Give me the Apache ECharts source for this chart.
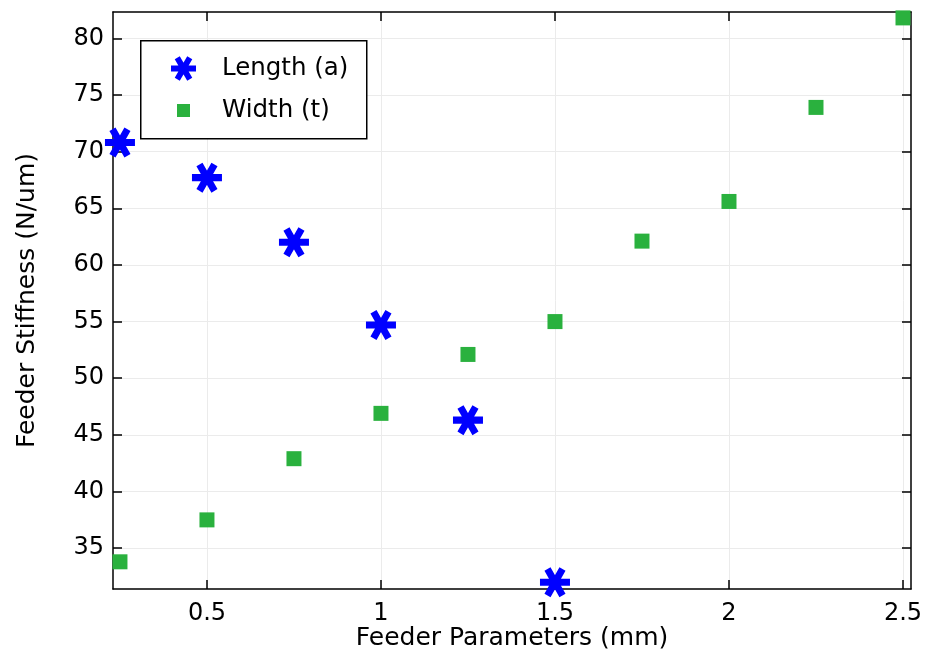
<!DOCTYPE html>
<html>
<head>
<meta charset="utf-8">
<script src="https://cdn.jsdelivr.net/npm/echarts@6/dist/echarts.min.js"></script>
<style>
  html, body { margin: 0; padding: 0; background: #fff; }
  #chart { width: 934px; height: 650px; }
</style>
</head>
<body>
<div id="chart"></div>
<script>
// data
var lengthX = [0.25, 0.5, 0.75, 1, 1.25, 1.5];
var lengthA = [70.8, 67.7, 62.0, 54.7, 46.3, 32.0];
var widthX = [0.25, 0.5, 0.75, 1, 1.25, 1.5, 1.75, 2, 2.25, 2.5];
var widthT = [33.8, 37.5, 42.9, 46.9, 52.1, 55.0, 62.1, 65.6, 73.9, 81.8];
var xTicks = [0.5, 1, 1.5, 2, 2.5];
var yTicks = [35, 40, 45, 50, 55, 60, 65, 70, 75, 80];
var seriesNames = ['Length (a)', 'Width (t)'];

// six-armed asterisk: horizontal bar + two bars at +-60 deg
var starPath = 'path://M-15,-3.5L15,-3.5L15,3.5L-15,3.5Z' +
    'M-10.531,-11.24L-4.469,-14.74L10.531,11.24L4.469,14.74Z' +
    'M-4.469,14.74L-10.531,11.24L4.469,-14.74L10.531,-11.24Z';

var pairs = function (xs, ys) {
    return xs.map(function (x, i) { return [x, ys[i]]; });
};

var fontFam = 'DejaVu Sans';
var tickFs = 24;
var nameFs = 25;
var legendFs = 24.5;

var axisBase = function (type, pos, ticks, min, max, showLabel) {
    return {
        type: 'value',
        position: pos,
        min: min,
        max: max,
        axisLine: {show: true, onZero: false, lineStyle: {color: '#000', width: 1.5}},
        axisTick: {show: true, inside: true, length: 9, customValues: ticks,
            lineStyle: {color: '#000', width: 1.5}},
        axisLabel: {show: showLabel, customValues: ticks, color: '#000',
            fontFamily: fontFam, fontSize: tickFs, margin: type === 'x' ? 13 : 9},
        splitLine: {show: showLabel, lineStyle: {color: '#ebebeb', width: 1}}
    };
};

var chart = echarts.init(document.getElementById('chart'));

var xMain = axisBase('x', 'bottom', xTicks, 0.23, 2.523, true);
xMain.name = 'Feeder Parameters (mm)';
xMain.nameLocation = 'middle';
xMain.nameGap = 37;
xMain.nameMoveOverlap = false;
xMain.nameTextStyle = {color: '#000', fontFamily: fontFam, fontSize: nameFs};

var yMain = axisBase('y', 'left', yTicks, 31.4, 82.32, true);
yMain.name = 'Feeder Stiffness (N/um)';
yMain.nameLocation = 'middle';
yMain.nameGap = 73;
yMain.nameMoveOverlap = false;
yMain.nameTextStyle = {color: '#000', fontFamily: fontFam, fontSize: nameFs};

chart.setOption({
    backgroundColor: '#fff',
    animation: false,
    grid: {left: 113, right: 23, top: 12, bottom: 61, containLabel: false,
        outerBoundsMode: 'none'},
    xAxis: [xMain, axisBase('x', 'top', xTicks, 0.23, 2.523, false)],
    yAxis: [yMain, axisBase('y', 'right', yTicks, 31.4, 82.32, false)],
    graphic: [{
        type: 'rect',
        left: 140,
        top: 40,
        z: 3,
        shape: {width: 226, height: 98},
        style: {fill: '#fff', stroke: '#000', lineWidth: 1.5}
    }],
    legend: [{
        data: [{name: seriesNames[0], icon: starPath}],
        left: 171,
        top: 56,
        padding: 0,
        itemWidth: 25,
        itemHeight: 25,
        z: 5,
        formatter: '{t|{name}}',
        textStyle: {color: '#000', fontFamily: fontFam, fontSize: legendFs,
            rich: {t: {fontFamily: fontFam, fontSize: legendFs, padding: [0, 0, 0, 21]}}}
    }, {
        data: [{name: seriesNames[1], icon: 'rect'}],
        left: 177,
        top: 98,
        padding: 0,
        itemWidth: 13,
        itemHeight: 13,
        z: 5,
        formatter: '{t|{name}}',
        textStyle: {color: '#000', fontFamily: fontFam, fontSize: legendFs,
            rich: {t: {fontFamily: fontFam, fontSize: legendFs, padding: [0, 0, 0, 27]}}}
    }],
    series: [{
        name: seriesNames[0],
        type: 'scatter',
        symbol: starPath,
        symbolSize: [30, 30],
        clip: true,
        itemStyle: {color: '#0000ff', opacity: 1},
        data: pairs(lengthX, lengthA)
    }, {
        name: seriesNames[1],
        type: 'scatter',
        symbol: 'rect',
        symbolSize: 15,
        clip: true,
        itemStyle: {color: '#2ab13e', opacity: 1},
        data: pairs(widthX, widthT)
    }]
});
</script>
</body>
</html>
